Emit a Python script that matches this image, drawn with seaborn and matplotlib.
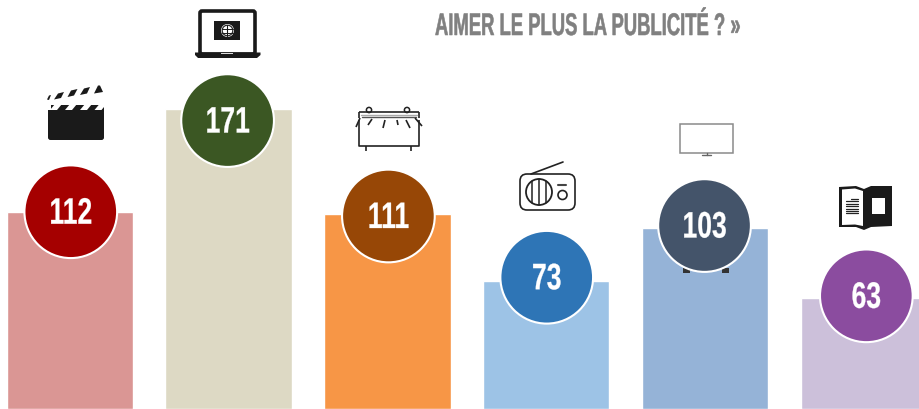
import numpy as np
import pandas as pd
import matplotlib
matplotlib.use("Agg")
import matplotlib.pyplot as plt
from matplotlib.patches import Circle, FancyBboxPatch, Polygon, Rectangle
from matplotlib.patheffects import AbstractPathEffect
from matplotlib.transforms import Affine2D
import seaborn as sns

# data
categories = ["Cinéma", "Internet", "Affichage", "Radio", "Télévision", "Presse"]
values = [112, 171, 111, 73, 103, 63]
bar_colors = ["#DA9694", "#DDD9C4", "#F79646", "#9DC3E6", "#95B3D7", "#CCC0DA"]
circle_colors = ["#A50000", "#3B5723", "#974706", "#2E75B6", "#44546A", "#8B4C9F"]
title = "AIMER LE PLUS LA PUBLICITÉ ? »"

# circles do not sit exactly on the bar tops, nudges in pixels (y goes down)
circle_dx = [1, -1, 1, 0.5, -0.5, 2.5]
circle_dy = [-0.5, 12, 2, -3.5, -2.5, -2.5]


# no condensed font installed, so squeeze the glyphs around their middle
class Condense(AbstractPathEffect):
    def __init__(self, sx, bold=0.0):
        super().__init__()
        self.sx = sx
        self.bold = bold

    def draw_path(self, renderer, gc, tpath, affine, rgbFace=None):
        cx = tpath.get_extents().x0 + tpath.get_extents().width / 2
        squeeze = Affine2D().translate(-cx, 0).scale(self.sx, 1).translate(cx, 0)
        gc0 = renderer.new_gc()
        gc0.copy_properties(gc)
        gc0.set_linewidth(self.bold)
        gc0.set_foreground(rgbFace)
        renderer.draw_path(gc0, tpath, squeeze + affine, rgbFace)
        gc0.restore()


sns.set_theme(style="white")
plt.rcParams["font.family"] = ["Liberation Sans", "DejaVu Sans"]

W, H = 920, 409
fig = plt.figure(figsize=(W / 100, H / 100), dpi=100)
ax = fig.add_axes([0, 0, 1, 1])

df = pd.DataFrame({"media": categories, "value": values})
sns.barplot(data=df, x="media", y="value", hue="media", palette=bar_colors,
            saturation=1, width=0.795, legend=False, ax=ax)
ax.set_xlim(-0.4394, 5.3536)
ax.set_ylim(0, 232.8)
ax.axis("off")

# overlay in pixels for the icons and the title
ov = fig.add_axes([0, 0, 1, 1], zorder=1)
ov.set_xlim(0, W)
ov.set_ylim(H, 0)
ov.axis("off")
ov.patch.set_alpha(0)

px_x = W / (ax.get_xlim()[1] - ax.get_xlim()[0])
px_y = H / ax.get_ylim()[1]


def clapper(a):
    a.add_patch(FancyBboxPatch((48, 110), 56, 30, boxstyle="round,pad=0,rounding_size=2.5", fc="k", ec="none"))
    a.add_patch(Rectangle((48, 104.5), 56, 7, fc="k", ec="none"))
    for xg in [50, 65, 80, 94.5]:
        a.add_patch(Polygon([(xg, 110), (xg + 7, 110), (xg + 12, 104), (xg + 5, 104)], fc="w", ec="none"))
    a.add_patch(Rectangle((47, 104), 4, 6, fc="w", ec="none"))
    for pts in [[(47, 99.5), (49, 100), (51, 95), (49, 95.5)],
                [(54, 99.5), (61, 98), (64, 92), (58, 93.5)],
                [(67.5, 97), (74, 95.5), (77.5, 89), (71, 90.5)],
                [(80, 95), (87, 93.5), (90, 87), (84, 88.5)],
                [(94, 93.5), (98, 85.5), (100, 85.5), (103, 92)]]:
        a.add_patch(Polygon(pts, fc="k", ec="none"))


def laptop(a):
    a.add_patch(FancyBboxPatch((200, 11), 55, 43, boxstyle="round,pad=0,rounding_size=2", fc="w", ec="k", lw=2.6))
    a.add_patch(Rectangle((214.5, 21), 26, 19, fc="k", ec="none"))
    a.add_patch(Circle((227.5, 30.5), 6.5, fc="w", ec="none"))
    a.add_patch(Circle((227.5, 30.5), 5.3, fc="none", ec="k", lw=0.8))
    a.plot([227.5, 227.5], [25, 36], c="k", lw=0.8)
    a.plot([222, 233], [28.5, 28.5], c="k", lw=0.7)
    a.plot([222, 233], [32.5, 32.5], c="k", lw=0.7)
    a.add_patch(Polygon([(195, 52.5), (260.5, 52.5), (260.5, 55), (257, 58), (198, 58), (195, 55)], fc="k", ec="none"))
    a.add_patch(Rectangle((221, 52.5), 12, 1.5, fc="#dddddd", ec="none"))


def billboard(a):
    k = dict(c="#222222", lw=1.2, solid_capstyle="butt")
    a.plot([359, 359, 419, 419], [120, 146, 146, 120], **k)
    a.plot([359, 419], [112, 112], **k)
    a.plot([359, 359], [112, 118], **k)
    a.plot([419, 419], [112, 118], **k)
    a.plot([362, 416], [117, 117], c="#555555", lw=1)
    a.plot([361, 417], [115, 115], c="#aaaaaa", lw=1)
    a.plot([366, 366], [146, 151], **k)
    a.plot([411, 411], [146, 151], **k)
    for x0, y0, x1, y1 in [(360, 118, 356, 127), (415, 118, 422, 126), (372, 119, 368, 125),
                           (385, 120, 383, 128), (397, 120, 398, 125), (406, 120, 410, 128)]:
        a.plot([x0, x1], [y0, y1], **k)
    a.add_patch(Circle((369, 110), 2.6, fc="w", ec="#222222", lw=1.1))
    a.add_patch(Circle((407, 110), 2.6, fc="w", ec="#222222", lw=1.1))


def radio(a):
    a.add_patch(FancyBboxPatch((520, 174), 55, 36, boxstyle="round,pad=0,rounding_size=7", fc="w", ec="#222222", lw=1.2))
    a.plot([531, 563], [174, 162], c="#222222", lw=1.2)
    a.add_patch(Circle((539, 192), 13, fc="w", ec="#222222", lw=1.3))
    for x, half in [(532, 11), (539, 13), (546, 11)]:
        a.plot([x, x], [192 - half, 192 + half], c="#222222", lw=1.1)
    a.add_patch(Circle((562.5, 195), 4.5, fc="w", ec="#222222", lw=1.2))
    a.plot([558.5, 566.5], [184.5, 184.5], c="#444444", lw=1.5)


def screen(a):
    a.add_patch(Rectangle((680, 124), 53.5, 28.5, fc="w", ec="#8a8a8a", lw=1.1))
    a.plot([707, 707], [152.5, 155], c="#666666", lw=1)
    a.plot([702.5, 711.5], [155, 155], c="#666666", lw=1)
    # bits of an icon hidden under the circle
    a.add_patch(Rectangle((683, 268), 7, 4.5, fc="#333333", ec="none"))
    a.add_patch(Rectangle((722, 268), 7, 4.5, fc="#333333", ec="none"))


def book(a):
    a.add_patch(Polygon([(839, 187), (856, 186), (864, 189), (871, 186), (892, 186), (892, 226),
                         (871, 227), (864, 230), (856, 227), (839, 227)], fc="k", ec="none"))
    a.add_patch(Polygon([(842, 189.5), (855, 188.5), (863, 191), (863, 226), (855, 224.5), (842, 225)], fc="w", ec="none"))
    a.add_patch(Rectangle((872.5, 198), 13, 16, fc="w", ec="none"))
    for i, y in enumerate(np.arange(199, 215, 2.4)):
        a.plot([846 if i > 0 else 851, 858], [y, y], c="#222222", lw=0.9)


clapper(ov)
laptop(ov)
billboard(ov)
radio(ov)
screen(ov)
book(ov)

# circles on top of everything, position from bar position and value
top = fig.add_axes([0, 0, 1, 1], zorder=2)
top.patch.set_alpha(0)

xs = [i + dx / px_x for i, dx in enumerate(circle_dx)]
ys = [v - dy / px_y for v, dy in zip(values, circle_dy)]
circles = pd.DataFrame({"x": xs, "y": ys, "media": categories})
sns.scatterplot(data=circles, x="x", y="y", hue="media", palette=circle_colors, s=(92.7 * 0.72) ** 2,
                edgecolor="white", linewidth=1.5, legend=False, ax=top, clip_on=False)
top.set_xlim(ax.get_xlim())
top.set_ylim(ax.get_ylim())
top.axis("off")
for x, y, v in zip(xs, ys, values):
    top.text(x, y + 1.5 / px_y, str(v), color="white", fontsize=26.5, fontweight="bold", ha="center",
             va="center_baseline", path_effects=[Condense(0.72, 0.2)])

ov.text(588, 35, title, color="#808080", fontsize=22.5, fontweight="bold", ha="center", va="baseline",
        path_effects=[Condense(0.59, 0.4)])

fig.savefig("out.png", dpi=100)
